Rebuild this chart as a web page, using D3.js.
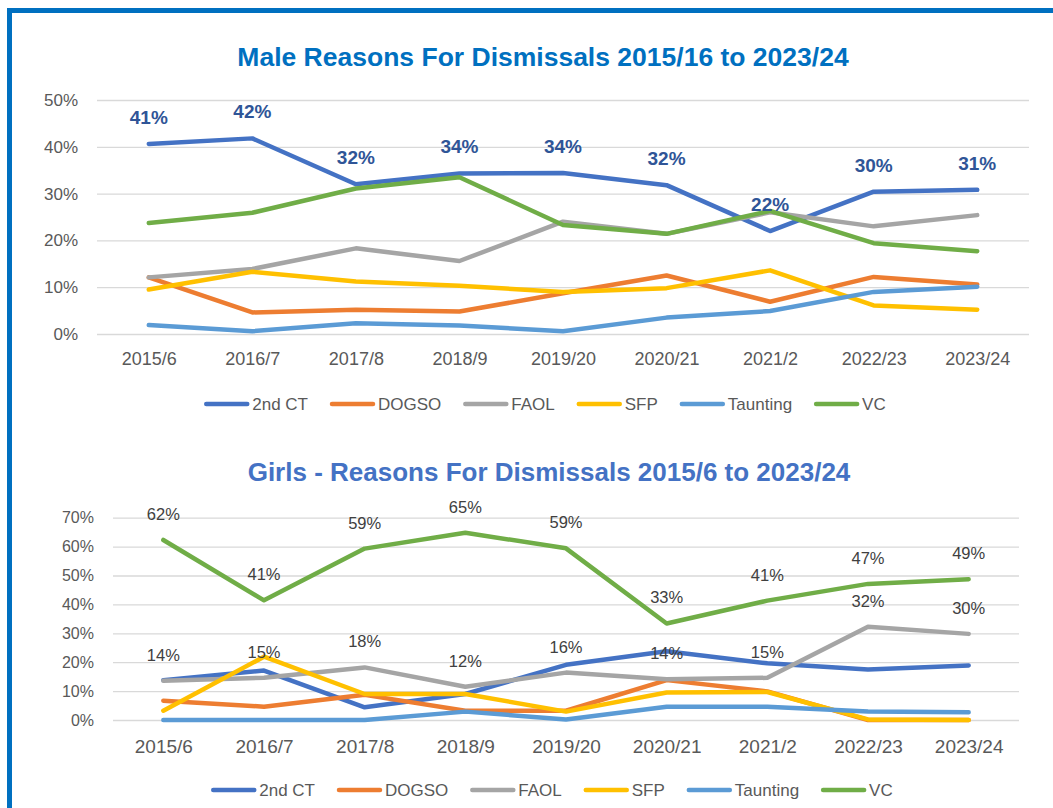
<!DOCTYPE html>
<html>
<head>
<meta charset="utf-8">
<script src="https://cdn.jsdelivr.net/npm/d3@7"></script>
<style>
  body { margin: 0; background: #fff; }
  svg { display: block; font-family: "Liberation Sans", Arial, sans-serif; }
</style>
</head>
<body>
<svg id="chart" width="1053" height="808"></svg>
<script>
// seasons on the x axis
const seasons = ["2015/6", "2016/7", "2017/8", "2018/9", "2019/20", "2020/21", "2021/2", "2022/23", "2023/24"];
const seriesNames = ["2nd CT", "DOGSO", "FAOL", "SFP", "Taunting", "VC"];
const seriesColors = ["#4472C4", "#ED7D31", "#A5A5A5", "#FFC000", "#5B9BD5", "#70AD47"];

// male, % of dismissals
const maleSecondCT = [40.6, 41.8, 32.0, 34.3, 34.4, 31.8, 22.0, 30.4, 30.8];
const maleDOGSO    = [12.1, 4.6, 5.2, 4.8, 8.7, 12.5, 6.9, 12.2, 10.6];
const maleFAOL     = [12.1, 13.9, 18.3, 15.6, 24.0, 21.4, 26.0, 23.0, 25.4];
const maleSFP      = [9.5, 13.3, 11.2, 10.3, 9.0, 9.8, 13.6, 6.1, 5.2];
const maleTaunting = [1.9, 0.6, 2.3, 1.8, 0.6, 3.5, 4.9, 9.0, 10.1];
const maleVC       = [23.7, 25.9, 31.1, 33.5, 23.3, 21.4, 26.3, 19.4, 17.7];

// girls, % of dismissals
const girlsSecondCT = [13.8, 17.1, 4.4, 9.0, 19.1, 23.8, 19.6, 17.5, 18.9];
const girlsDOGSO    = [6.7, 4.6, 8.7, 3.2, 3.2, 13.8, 9.9, 0, 0];
const girlsFAOL     = [13.6, 14.6, 18.2, 11.5, 16.4, 14.1, 14.6, 32.3, 29.8];
const girlsSFP      = [3.2, 21.9, 9.0, 9.0, 2.9, 9.5, 9.7, 0.2, 0];
const girlsTaunting = [0, 0, 0, 2.9, 0.2, 4.6, 4.6, 2.9, 2.7];
const girlsVC       = [62.3, 41.4, 59.3, 64.8, 59.4, 33.4, 41.3, 47.1, 48.7];

const svg = d3.select("#chart");

// frame (left + top blue border)
svg.append("path")
    .attr("d", "M9.5,808 V10.5 H1053")
    .attr("fill", "none")
    .attr("stroke", "#0070C0")
    .attr("stroke-width", 5);

function drawPanel(p) {
    const g = svg.append("g");

    const x = d3.scalePoint().domain(seasons).range([p.left, p.right]).padding(0.5);
    const y = d3.scaleLinear().domain([0, p.yMax]).range([p.bottom, p.top]);

    // title
    g.append("text")
        .attr("x", p.titleX).attr("y", p.titleY)
        .attr("text-anchor", "middle")
        .attr("font-size", p.titleSize).attr("font-weight", "bold")
        .attr("fill", p.titleColor)
        .text(p.title);

    // y axis + gridlines
    const yAxis = g.append("g")
        .attr("transform", `translate(${p.left},0)`)
        .call(d3.axisLeft(y)
            .tickValues(d3.range(0, p.yMax + 1, 10))
            .tickSize(-(p.right - p.left))
            .tickPadding(19)
            .tickFormat(d => d + "%"));
    yAxis.select(".domain").remove();
    yAxis.selectAll("line").attr("stroke", "#D9D9D9").attr("stroke-width", 1.3);
    yAxis.selectAll("text")
        .attr("font-size", p.yTickSize)
        .attr("fill", "#595959")
        .attr("font-family", null);

    // x axis labels
    const xAxis = g.append("g")
        .attr("transform", `translate(0,${p.bottom})`)
        .call(d3.axisBottom(x).tickSize(0));
    xAxis.select(".domain").remove();
    xAxis.selectAll("text")
        .attr("y", p.xLabelY - p.bottom).attr("dy", null)
        .attr("font-size", p.xTickSize)
        .attr("fill", "#595959")
        .attr("font-family", null);

    // lines
    const line = d3.line()
        .x((d, i) => x(seasons[i]))
        .y(d => y(d));

    g.append("g").selectAll("path")
        .data(p.series)
        .join("path")
        .attr("d", d => line(d))
        .attr("fill", "none")
        .attr("stroke", (d, i) => seriesColors[i])
        .attr("stroke-width", 4.5)
        .attr("stroke-linecap", "round")
        .attr("stroke-linejoin", "round");

    // data labels
    p.labelled.forEach(si => {
        g.append("g").selectAll("text")
            .data(p.series[si])
            .join("text")
            .attr("x", (d, i) => x(seasons[i]))
            .attr("y", d => y(d) - 20)
            .attr("text-anchor", "middle")
            .attr("font-size", p.labelSize)
            .attr("font-weight", p.labelWeight)
            .attr("fill", p.labelColor)
            .text(d => Math.round(d) + "%");
    });

    // legend
    const leg = g.append("g");
    let cx = 0;
    seriesNames.forEach((name, i) => {
        leg.append("line")
            .attr("x1", cx + 2).attr("x2", cx + 43)
            .attr("y1", 0).attr("y2", 0)
            .attr("stroke", seriesColors[i])
            .attr("stroke-width", 4.5)
            .attr("stroke-linecap", "round");
        const t = leg.append("text")
            .attr("x", cx + 48).attr("y", 6)
            .attr("font-size", p.legendSize)
            .attr("fill", "#595959")
            .text(name);
        cx += 48 + t.node().getComputedTextLength() + 22;
    });
    cx -= 22;
    leg.attr("transform", `translate(${p.legendX - cx / 2},${p.legendY})`);
}

drawPanel({
    title: "Male Reasons For Dismissals 2015/16 to 2023/24",
    titleColor: "#0070C0", titleSize: 26.5, titleX: 543, titleY: 66,
    left: 97, right: 1029, top: 100, bottom: 334, yMax: 50,
    yTickSize: 17, xTickSize: 18, xLabelY: 365,
    series: [maleSecondCT, maleDOGSO, maleFAOL, maleSFP, maleTaunting, maleVC],
    labelled: [0], labelSize: 19, labelWeight: "bold", labelColor: "#2F5597",
    legendX: 545, legendY: 404, legendSize: 17
});

drawPanel({
    title: "Girls - Reasons For Dismissals 2015/6 to 2023/24",
    titleColor: "#4472C4", titleSize: 26, titleX: 549, titleY: 481,
    left: 113, right: 1019, top: 517.7, bottom: 720, yMax: 70,
    yTickSize: 16, xTickSize: 19, xLabelY: 753,
    series: [girlsSecondCT, girlsDOGSO, girlsFAOL, girlsSFP, girlsTaunting, girlsVC],
    labelled: [2, 5], labelSize: 16.5, labelWeight: "normal", labelColor: "#404040",
    legendX: 552, legendY: 790, legendSize: 17
});
</script>
</body>
</html>
